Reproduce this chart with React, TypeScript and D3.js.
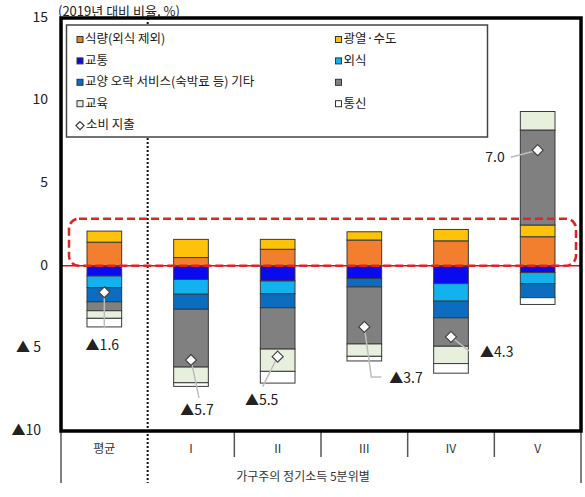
import React from "react";
import * as d3 from "d3";

// Household income quintiles (plus the overall average)
const categories = ["평균", "I", "II", "III", "IV", "V"];

// Change in spending by item, % vs 2019
const food = [1.43, 0.5, 1.0, 1.56, 1.51, 1.76];
const utilities = [0.67, 1.1, 0.6, 0.5, 0.69, 0.71];
const transport = [-0.62, -0.83, -0.92, -0.77, -1.08, -0.41];
const dining = [-0.7, -0.89, -0.77, 0, -1.06, -0.67];
const culture = [-0.86, -0.91, -0.85, -0.51, -1.01, -0.85];
const other = [-0.54, -3.5, -2.5, -3.45, -1.72, 5.75];
const education = [-0.46, -0.95, -1.35, -0.75, -1.05, 1.12];
const communication = [-0.52, -0.22, -0.71, -0.28, -0.58, -0.41];
const totalSpending = [-1.6, -5.7, -5.5, -3.7, -4.3, 7.0];

const seriesKeys = ["food", "utilities", "transport", "dining", "culture", "other", "education", "communication"];
const seriesLabels = ["식량(외식 제외)", "광열·수도", "교통", "외식", "교양 오락 서비스(숙박료 등) 기타", "", "교육", "통신"];
const seriesValues = [food, utilities, transport, dining, culture, other, education, communication];
const seriesColors = ["#F27F2E", "#FFC20A", "#0A0AEE", "#12B2EE", "#0B6CC0", "#808080", "#E6F0DC", "#FFFFFF"];

const yTicks = [15, 10, 5, 0, -5, -10];
const totalLabel = "소비 지출";
const axisTitle = "(2019년 대비 비율, %)";
const groupTitle = "가구주의 정기소득 5분위별";

// Callout placement for each total label, relative to its diamond
const callouts = [
  { path: [[0, 0], [0, 36]], dx: -2, dy: 54, anchor: "middle" },
  { path: [[0, 0], [8, 38]], dx: 6, dy: 51, anchor: "middle" },
  { path: [[0, 0], [-15, 30]], dx: -16, dy: 45, anchor: "middle" },
  { path: [[0, 0], [7, 50], [17, 50]], dx: 25, dy: 52, anchor: "start" },
  { path: [[0, 0], [18, 14]], dx: 29, dy: 16, anchor: "start" },
  { path: [[0, 0], [-27, 7]], dx: -33, dy: 8, anchor: "end" },
];

const FONT = "'Noto Sans CJK KR', 'Noto Sans', sans-serif";
const W = 585;
const H = 497;
const frame = { left: 61, right: 581, top: 18, bottom: 431 };

const fmtTotal = (v: number) => (v < 0 ? "▲" + Math.abs(v).toFixed(1) : v.toFixed(1));
const fmtTick = (v: number) => (v < 0 ? "▲" + (Math.abs(v) < 10 ? " " : "") + Math.abs(v) : String(v));

export default function App() {
  const rows = categories.map((c, i) => {
    const r: Record<string, any> = { cat: c };
    seriesKeys.forEach((k, j) => (r[k] = seriesValues[j][i]));
    return r;
  });

  const stacked = d3.stack<any>().keys(seriesKeys).offset(d3.stackOffsetDiverging)(rows);

  const x = d3.scaleBand<string>().domain(categories).range([frame.left, frame.right]).paddingInner(0.6).paddingOuter(0.3);
  const y = d3.scaleLinear().domain([-10, 15]).range([frame.bottom, frame.top]);

  const step = x.step();
  const boundaries = categories.slice(1).map((c) => (x(c) as number) - step * x.paddingInner() / 2);
  const sepX = boundaries[0];
  const tickXs = boundaries.slice(1);

  const legendRowY = (i: number) => 40 + i * 21.4;
  const legendCols = [77, 335.5];

  const diamond = (cx: number, cy: number, r: number) => `M${cx},${cy - r}L${cx + r},${cy}L${cx},${cy + r}L${cx - r},${cy}Z`;

  return (
    <svg width={W} height={H} style={{ position: "absolute", left: 0, top: 0, background: "#fff" }} fontFamily={FONT}>
      <rect x={0} y={0} width={W} height={H} fill="#fff" />

      {/* axis title */}
      <text x={58} y={12} fontSize={13} fill="#222" dominantBaseline="middle">{axisTitle}</text>

      {/* y tick labels outside the frame */}
      {yTicks.map((t) => (
        <text key={t} x={t < 0 ? 41 : 48} y={y(t)} fontSize={14} fill="#222" textAnchor="end" dominantBaseline="middle">
          {fmtTick(t)}
        </text>
      ))}

      {/* dotted separator between average and quintiles */}
      <line x1={sepX} x2={sepX} y1={frame.top} y2={483} stroke="#111" strokeWidth={2} strokeDasharray="2,2" />

      {/* category ticks under the frame */}
      <line x1={frame.left} x2={frame.left} y1={frame.bottom} y2={483} stroke="#555" strokeWidth={1.5} />
      <line x1={frame.right} x2={frame.right} y1={frame.bottom} y2={483} stroke="#555" strokeWidth={1.5} />
      {tickXs.map((tx, i) => (
        <line key={i} x1={tx} x2={tx} y1={frame.bottom} y2={457} stroke="#555" strokeWidth={1.5} />
      ))}
      {categories.map((c) => (
        <text key={c} x={(x(c) as number) + x.bandwidth() / 2} y={450} fontSize={12} fill="#333" textAnchor="middle" dominantBaseline="middle">
          {c}
        </text>
      ))}
      <text x={303} y={478} fontSize={12} fill="#333" textAnchor="middle" dominantBaseline="middle">{groupTitle}</text>

      {/* stacked bars */}
      {stacked.map((s, j) => (
        <g key={s.key}>
          {s.map((d, i) => {
            const h = Math.abs(y(d[0]) - y(d[1]));
            if (h < 0.01) return null;
            return (
              <rect
                key={i}
                x={x(categories[i]) as number}
                y={Math.min(y(d[0]), y(d[1]))}
                width={x.bandwidth()}
                height={h}
                fill={seriesColors[j]}
                stroke="#3a3a3a"
                strokeWidth={1}
              />
            );
          })}
        </g>
      ))}

      {/* zero line and highlight box */}
      <line x1={frame.left} x2={frame.right} y1={y(0)} y2={y(0)} stroke="#D01818" strokeWidth={1.5} />
      <rect
        x={69}
        y={y(2.85)}
        width={507}
        height={y(0) - y(2.85)}
        rx={10}
        ry={10}
        fill="none"
        stroke="#E02424"
        strokeWidth={2.5}
        strokeDasharray="8,4"
      />

      {/* total spending markers with callouts */}
      {totalSpending.map((v, i) => {
        const cx = (x(categories[i]) as number) + x.bandwidth() / 2;
        const cy = y(v);
        const c = callouts[i];
        const pts = c.path.map(([px, py]) => [cx + px, cy + py] as [number, number]);
        return (
          <g key={i}>
            <path d={d3.line()(pts) as string} fill="none" stroke="#BDBDBD" strokeWidth={1.5} />
            <path d={diamond(cx, cy, 5.5)} fill="#fff" stroke="#444" strokeWidth={1.2} />
            <text x={cx + c.dx} y={cy + c.dy} fontSize={14} fill="#222" textAnchor={c.anchor as any} dominantBaseline="middle">
              {fmtTotal(v)}
            </text>
          </g>
        );
      })}

      {/* legend */}
      <rect x={66.5} y={25} width={421} height={112} fill="#fff" stroke="#444" strokeWidth={1.5} />
      {seriesKeys.map((k, j) => {
        const col = j % 2;
        const row = Math.floor(j / 2);
        const lx = legendCols[col];
        const ly = legendRowY(row);
        return (
          <g key={k}>
            <rect x={lx} y={ly - 3.5} width={6} height={6} fill={seriesColors[j]} stroke="#333" strokeWidth={1} />
            <text x={lx + 8} y={ly} fontSize={12.5} fill="#1a1a1a" dominantBaseline="middle">{seriesLabels[j]}</text>
          </g>
        );
      })}
      <path d={diamond(80, legendRowY(4), 4)} fill="#fff" stroke="#333" strokeWidth={1.2} />
      <text x={86} y={legendRowY(4)} fontSize={12.5} fill="#1a1a1a" dominantBaseline="middle">{totalLabel}</text>

      {/* plot frame */}
      <rect
        x={frame.left}
        y={frame.top}
        width={frame.right - frame.left}
        height={frame.bottom - frame.top}
        fill="none"
        stroke="#000"
        strokeWidth={3.5}
      />
    </svg>
  );
}
